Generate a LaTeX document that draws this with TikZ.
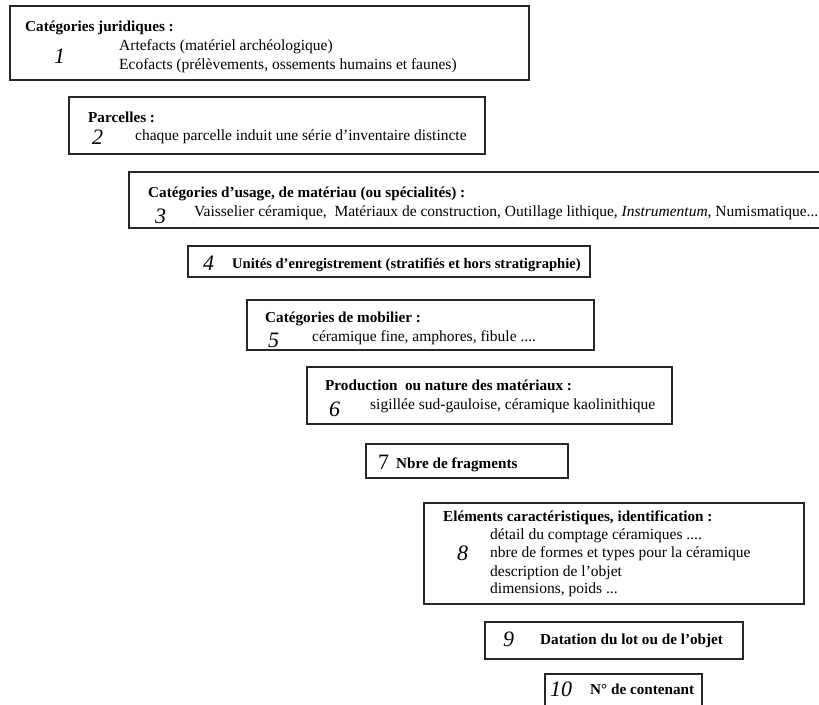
\documentclass[tikz,border=0pt]{standalone}
\usepackage{fontspec}
\setmainfont{Liberation Serif}
\begin{document}
\begin{tikzpicture}[x=1pt,y=-1pt,
  box/.style={draw=black!85, line width=1.3pt, rectangle, inner sep=0pt},
  ttl/.style={anchor=base west, inner sep=0pt, font=\fontsize{15.2}{16}\selectfont\bfseries},
  txt/.style={anchor=base west, inner sep=0pt, font=\fontsize{15.5}{16}\selectfont},
  num/.style={anchor=base west, inner sep=0pt, font=\fontsize{22}{23}\selectfont\itshape}]
\useasboundingbox[fill=white] (0,0) rectangle (819,704);
% box 1
\node[box, minimum width=519pt, minimum height=74pt] (b1) at (269.5,43) {};
\node[ttl] (t1) at (25,31) {Catégories juridiques :};
\node[num] (n1) at (54,63) {1};
\node[txt] (l1a) at (119,50) {Artefacts (matériel archéologique)};
\node[txt] (l1b) at (119,69) {Ecofacts (prélèvements, ossements humains et faunes)};
% box 2
\node[box, minimum width=416pt, minimum height=57pt] (b2) at (277,125.5) {};
\node[ttl] (t2) at (88,122) {Parcelles :};
\node[num] (n2) at (92,144) {2};
\node[txt] (l2) at (135,140) {chaque parcelle induit une série d'inventaire distincte};
% box 3
\node[box, minimum width=700pt, minimum height=56pt] (b3) at (479,200) {};
\node[ttl] (t3) at (148,197) {Catégories d'usage, de matériau (ou spécialités) :};
\node[num] (n3) at (155,223) {3};
\node[txt] (l3) at (194,216) {Vaisselier céramique,\ \ Matériaux de construction, Outillage lithique, \textit{Instrumentum}, Numismatique...};
% box 4
\node[box, minimum width=402pt, minimum height=31pt] (b4) at (389,261.5) {};
\node[num] (n4) at (203,270) {4};
\node[ttl, font=\fontsize{14.6}{16}\selectfont\bfseries] (l4) at (232,268) {Unités d'enregistrement (stratifiés et hors stratigraphie)};
% box 5
\node[box, minimum width=347pt, minimum height=50pt] (b5) at (420.5,325) {};
\node[ttl] (t5) at (265,322) {Catégories de mobilier :};
\node[num] (n5) at (268,347) {5};
\node[txt] (l5) at (312,341) {céramique fine, amphores, fibule ....};
% box 6
\node[box, minimum width=365pt, minimum height=57pt] (b6) at (489.5,395.5) {};
\node[ttl] (t6) at (325,390) {Production\ \ ou nature des matériaux :};
\node[num] (n6) at (329,416) {6};
\node[txt] (l6) at (370,409) {sigillée sud-gauloise, céramique kaolinithique};
% box 7
\node[box, minimum width=202pt, minimum height=34pt] (b7) at (467,461) {};
\node[num, font=\fontsize{22}{23}\selectfont] (n7) at (378,469) {7};
\node[ttl] (l7) at (396,468) {Nbre de fragments};
% box 8
\node[box, minimum width=380pt, minimum height=101pt] (b8) at (614,553.5) {};
\node[ttl] (t8) at (443,521) {Eléments caractéristiques, identification :};
\node[num] (n8) at (457,560) {8};
\node[txt] (l8a) at (490,539) {détail du comptage céramiques ....};
\node[txt] (l8b) at (490,557) {nbre de formes et types pour la céramique};
\node[txt] (l8c) at (490,576) {description de l'objet};
\node[txt] (l8d) at (490,593) {dimensions, poids ...};
% box 9
\node[box, minimum width=258pt, minimum height=37pt] (b9) at (614,640.5) {};
\node[num] (n9) at (503,646) {9};
\node[ttl] (l9) at (540,644) {Datation du lot ou de l'objet};
% box 10
\node[box, minimum width=157pt, minimum height=40pt] (b10) at (623.5,694) {};
\node[num] (n10) at (550,696) {10};
\node[ttl] (l10) at (590,694) {N° de contenant};
\end{tikzpicture}
\end{document}
